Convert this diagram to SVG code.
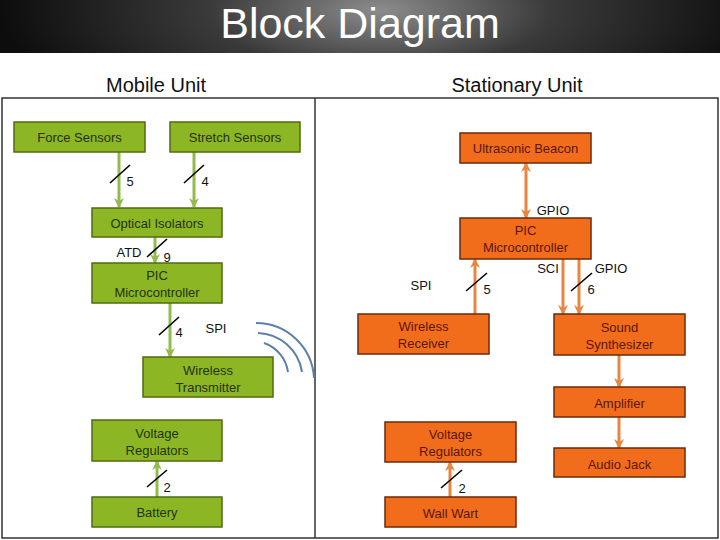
<svg xmlns="http://www.w3.org/2000/svg" width="720" height="540" viewBox="0 0 720 540">
<defs>
<radialGradient id="hdr" cx="380" cy="10" r="380" gradientUnits="userSpaceOnUse" gradientTransform="translate(380 10) scale(1 0.35) translate(-380 -10)">
<stop offset="0" stop-color="#8c8c8c"/>
<stop offset="0.45" stop-color="#3a3a3a"/>
<stop offset="1" stop-color="#0d0d0d"/>
</radialGradient>
<marker id="ag" viewBox="0 0 10 10" refX="9" refY="5" markerWidth="10" markerHeight="10" markerUnits="userSpaceOnUse" orient="auto-start-reverse"><path d="M0,0 L10,5 L0,10 L3,5 z" fill="#93bb4c"/></marker>
<marker id="ao" viewBox="0 0 10 10" refX="9" refY="5" markerWidth="10" markerHeight="10" markerUnits="userSpaceOnUse" orient="auto-start-reverse"><path d="M0,0 L10,5 L0,10 L3,5 z" fill="#e8853f"/></marker>
<style>
.g rect{fill:#8cb624;stroke:#4f6b12;stroke-width:1.5}
.o rect{fill:#f26d1b;stroke:#6b2a08;stroke-width:1.5}
.g text{fill:#24330a}
.o text{fill:#5a1605}
text{font-family:"Liberation Sans","DejaVu Sans",sans-serif;text-anchor:middle}
.lbl{font-size:13px;fill:#111}
.bt{font-size:13px}
.ga{stroke:#93bb4c;stroke-width:3;fill:none;marker-end:url(#ag)}
.oa{stroke:#e8853f;stroke-width:3;fill:none;marker-end:url(#ao)}
.sl{stroke:#000;stroke-width:1.6}
.wv{stroke:#5d80aa;stroke-width:2;fill:none}
</style>
</defs>
<rect x="0" y="0" width="720" height="540" fill="#ffffff"/>
<rect x="0" y="0" width="720" height="53" fill="url(#hdr)"/>
<text x="360" y="38" font-size="43" fill="#ffffff">Block Diagram</text>
<text x="156" y="92" font-size="20" fill="#111">Mobile Unit</text>
<text x="517" y="92" font-size="20" fill="#111">Stationary Unit</text>
<g id="frame" stroke="#333" stroke-width="1.5" fill="none">
<rect x="2" y="98" width="716" height="440"/>
<line x1="315" y1="98" x2="315" y2="538"/>
</g>

<g id="connectors">
<line class="ga" x1="119" y1="152" x2="119" y2="207"/>
<line class="ga" x1="194" y1="152" x2="194" y2="207"/>
<line class="ga" x1="155" y1="237" x2="155" y2="263"/>
<line class="ga" x1="170" y1="303" x2="170" y2="357"/>
<line class="ga" x1="157" y1="497" x2="157" y2="461"/>
<line class="sl" x1="110" y1="183" x2="130" y2="165"/>
<line class="sl" x1="184" y1="183" x2="204" y2="165"/>
<line class="sl" x1="147" y1="257" x2="167" y2="239"/>
<line class="sl" x1="159" y1="335" x2="179" y2="317"/>
<line class="sl" x1="147" y1="487" x2="167" y2="470"/>
<text class="lbl" x="130" y="186">5</text>
<text class="lbl" x="205" y="186">4</text>
<text class="lbl" x="167" y="262">9</text>
<text class="lbl" x="129" y="257">ATD</text>
<text class="lbl" x="179" y="337">4</text>
<text class="lbl" x="216" y="333">SPI</text>
<text class="lbl" x="167" y="492">2</text>
<path class="wv" d="M256 323 A58 58 0 0 1 314 378"/>
<path class="wv" d="M258 333 A46 46 0 0 1 302 372"/>
<path class="wv" d="M264 343 A36 36 0 0 1 288 372"/>

<line class="oa" x1="526" y1="163" x2="526" y2="218" marker-start="url(#ao)"/>
<line class="oa" x1="475" y1="314" x2="475" y2="259"/>
<line class="oa" x1="563" y1="259" x2="563" y2="314"/>
<line class="oa" x1="579" y1="259" x2="579" y2="314"/>
<line class="oa" x1="619" y1="355" x2="619" y2="387"/>
<line class="oa" x1="619" y1="417" x2="619" y2="448"/>
<line class="oa" x1="450" y1="497" x2="450" y2="462"/>
<line class="sl" x1="466" y1="291" x2="487" y2="273"/>
<line class="sl" x1="571" y1="291" x2="592" y2="273"/>
<line class="sl" x1="441" y1="488" x2="462" y2="470"/>
<text class="lbl" x="553" y="215">GPIO</text>
<text class="lbl" x="487" y="294">5</text>
<text class="lbl" x="421" y="290">SPI</text>
<text class="lbl" x="591" y="294">6</text>
<text class="lbl" x="548" y="273">SCI</text>
<text class="lbl" x="611" y="273">GPIO</text>
<text class="lbl" x="462" y="493">2</text>
</g>

<g id="force-sensors" class="g"><rect x="14" y="122" width="131" height="30"/><text class="bt" x="79.5" y="142">Force Sensors</text></g>
<g id="stretch-sensors" class="g"><rect x="170" y="122" width="130" height="30"/><text class="bt" x="235" y="142">Stretch Sensors</text></g>
<g id="optical-isolators" class="g"><rect x="92" y="208" width="130" height="29"/><text class="bt" x="157" y="228">Optical Isolators</text></g>
<g id="pic-mobile" class="g"><rect x="92" y="263" width="130" height="40"/><text class="bt" x="157" y="280">PIC</text><text class="bt" x="157" y="297">Microcontroller</text></g>
<g id="wireless-transmitter" class="g"><rect x="143" y="357" width="130" height="40"/><text class="bt" x="208" y="375">Wireless</text><text class="bt" x="208" y="392">Transmitter</text></g>
<g id="voltage-regulators-mobile" class="g"><rect x="92" y="420" width="130" height="41"/><text class="bt" x="157" y="438">Voltage</text><text class="bt" x="157" y="455">Regulators</text></g>
<g id="battery" class="g"><rect x="92" y="497" width="130" height="30"/><text class="bt" x="157" y="517">Battery</text></g>

<g id="ultrasonic-beacon" class="o"><rect x="460" y="133" width="131" height="30"/><text class="bt" x="525.5" y="153">Ultrasonic Beacon</text></g>
<g id="pic-stationary" class="o"><rect x="460" y="218" width="131" height="41"/><text class="bt" x="525.5" y="235">PIC</text><text class="bt" x="525.5" y="252">Microcontroller</text></g>
<g id="wireless-receiver" class="o"><rect x="358" y="314" width="131" height="40"/><text class="bt" x="423.5" y="331">Wireless</text><text class="bt" x="423.5" y="348">Receiver</text></g>
<g id="sound-synthesizer" class="o"><rect x="554" y="314" width="131" height="41"/><text class="bt" x="619.5" y="332">Sound</text><text class="bt" x="619.5" y="349">Synthesizer</text></g>
<g id="amplifier" class="o"><rect x="554" y="387" width="131" height="30"/><text class="bt" x="619.5" y="408">Amplifier</text></g>
<g id="audio-jack" class="o"><rect x="554" y="448" width="131" height="29"/><text class="bt" x="619.5" y="469">Audio Jack</text></g>
<g id="voltage-regulators-stationary" class="o"><rect x="385" y="422" width="131" height="40"/><text class="bt" x="450.5" y="439">Voltage</text><text class="bt" x="450.5" y="456">Regulators</text></g>
<g id="wall-wart" class="o"><rect x="385" y="497" width="131" height="30"/><text class="bt" x="450.5" y="518">Wall Wart</text></g>
</svg>
